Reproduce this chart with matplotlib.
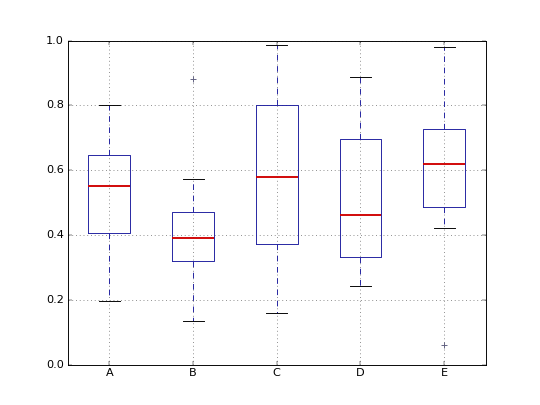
import matplotlib
matplotlib.use("Agg")
import matplotlib.pyplot as plt

plt.style.use("classic")

labels = ["A", "B", "C", "D", "E"]
whislo = [0.195, 0.135, 0.160, 0.242, 0.420]
q1     = [0.405, 0.320, 0.372, 0.333, 0.485]
med    = [0.552, 0.390, 0.578, 0.462, 0.620]
q3     = [0.648, 0.470, 0.802, 0.695, 0.728]
whishi = [0.800, 0.573, 0.985, 0.887, 0.980]
fliers = [[], [0.880], [], [], [0.060]]

stats = []
for i, lab in enumerate(labels):
    stats.append({"label": lab, "whislo": whislo[i], "q1": q1[i], "med": med[i],
                  "q3": q3[i], "whishi": whishi[i], "fliers": fliers[i]})

fig = plt.figure(figsize=(8, 6), dpi=67.5)
ax = fig.add_subplot(111)
ax.bxp(stats, widths=0.5,
       boxprops=dict(color="#2020a0", linewidth=1),
       whiskerprops=dict(color="#2020a0", linestyle="--", linewidth=1),
       capprops=dict(color="black", linewidth=1),
       medianprops=dict(color="#d00000", linewidth=2),
       flierprops=dict(marker="+", markeredgecolor="#606080", markersize=6, linestyle="none"))
ax.set_ylim(0, 1.0)
ax.grid(True, color="#888888", linestyle=":", linewidth=1)
ax.set_axisbelow(True)
fig.savefig("out.png", dpi=67.5)
